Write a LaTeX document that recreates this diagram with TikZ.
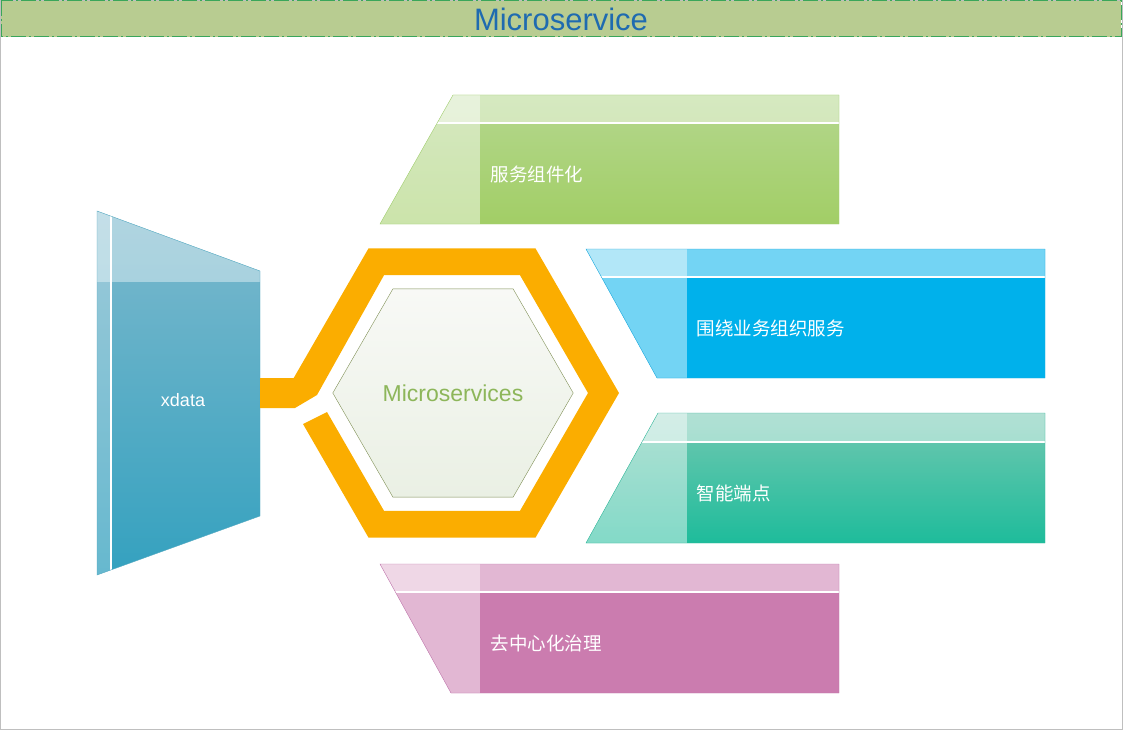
\documentclass[tikz,border=0pt]{standalone}
\usepackage{fontspec}
\setmainfont{Liberation Sans}
\newfontfamily\cjk{Noto Sans CJK SC}
\usetikzlibrary{shapes.geometric}

\definecolor{titlefill}{HTML}{B8CC91}
\definecolor{titleline}{HTML}{3AA65A}
\definecolor{titletext}{HTML}{1F6BB0}
\definecolor{ringorange}{HTML}{FBAD00}
\definecolor{hubtop}{HTML}{F8F9F6}
\definecolor{hubbot}{HTML}{EAF0E4}
\definecolor{hubline}{HTML}{7F8F55}
\definecolor{hubtext}{HTML}{8DB65A}
\definecolor{xdtop}{HTML}{7DB9CD}
\definecolor{xdbot}{HTML}{34A1BF}
\definecolor{xdline}{HTML}{55A9C1}
\definecolor{grtop}{HTML}{B4D78E}
\definecolor{grbot}{HTML}{A2CE66}
\definecolor{grline}{HTML}{A3CF72}
\definecolor{blfill}{HTML}{00B1EB}
\definecolor{blline}{HTML}{22AADD}
\definecolor{tltop}{HTML}{72C8B1}
\definecolor{tlbot}{HTML}{1EBC9B}
\definecolor{tlline}{HTML}{35B89C}
\definecolor{pkfill}{HTML}{CB7CAF}
\definecolor{pkline}{HTML}{C07AAE}

\begin{document}
\begin{tikzpicture}[x=1pt,y=-1pt,
    boxtext/.style={text=white, anchor=west, font=\cjk\fontsize{18.5}{18.5}\selectfont},
    band/.style={fill=white, fill opacity=.45},
    rim/.style={white, line width=1.2pt}]
    \useasboundingbox (0,0) rectangle (1123,730);
    \draw[gray!50] (0.5,0.5) rectangle (1122.5,729.5);
    % title bar
    \draw[titleline, fill=titlefill, line width=1pt, dash pattern=on 15pt off 3pt on 2pt off 3pt]
        (1,1) rectangle (1121,37);
    \node[text=titletext, font=\fontsize{31}{31}\selectfont] (title) at (561,19) {Microservice};

    % xdata block on the left
    \coordinate (x1) at (97,211);
    \coordinate (x2) at (260,271);
    \coordinate (x3) at (260,516);
    \coordinate (x4) at (97,575);
    \shade[top color=xdtop, bottom color=xdbot] (x1) -- (x2) -- (x3) -- (x4) -- cycle;
    \begin{scope}
        \clip (x1) -- (x2) -- (x3) -- (x4) -- cycle;
        \fill[white, fill opacity=.4] (90,200) rectangle (270,282);
        \fill[white, fill opacity=.25] (90,200) rectangle (110,590);
        \draw[white, line width=1.2pt] (111,200) -- (111,590);
    \end{scope}
    \draw[xdline] (x1) -- (x2) -- (x3) -- (x4) -- cycle;
    \node[text=white, font=\fontsize{18}{18}\selectfont] (xdata) at (183,400) {xdata};

    % orange ring round the hub, open on the left where the link from xdata comes in
    \fill[ringorange] (260,378) -- (293.7,378) -- (368.5,248.4) -- (535.5,248.4) -- (619,393)
        -- (535.5,537.6) -- (368.5,537.6) -- (303,424) -- (327,412) -- (384,510.8)
        -- (520,510.8) -- (588,393) -- (520,275.2) -- (384,275.2) -- (317,395)
        -- (295,408) -- (260,408) -- cycle;
    \node[regular polygon, regular polygon sides=6, minimum size=240pt, draw=hubline,
        top color=hubtop, bottom color=hubbot, text=hubtext,
        font=\fontsize{23}{23}\selectfont] (hub) at (453,393) {Microservices};

    % green box
    \coordinate (a1) at (453,95);
    \coordinate (a2) at (839,95);
    \coordinate (a3) at (839,224);
    \coordinate (a4) at (380,224);
    \shade[top color=grtop, bottom color=grbot] (a1) -- (a2) -- (a3) -- (a4) -- cycle;
    \begin{scope}
        \clip (a1) -- (a2) -- (a3) -- (a4) -- cycle;
        \fill[band] (370,90) rectangle (480,230);
        \fill[band] (370,90) rectangle (850,123);
        \draw[rim] (370,123) -- (850,123);
    \end{scope}
    \draw[grline] (a1) -- (a2) -- (a3) -- (a4) -- cycle;
    \node[boxtext] (f1) at (487,174) {服务组件化};

    % blue box
    \coordinate (b1) at (586,249);
    \coordinate (b2) at (1045,249);
    \coordinate (b3) at (1045,378);
    \coordinate (b4) at (657,378);
    \fill[blfill] (b1) -- (b2) -- (b3) -- (b4) -- cycle;
    \begin{scope}
        \clip (b1) -- (b2) -- (b3) -- (b4) -- cycle;
        \fill[band] (580,240) rectangle (687,385);
        \fill[band] (580,240) rectangle (1050,277);
        \draw[rim] (580,277) -- (1050,277);
    \end{scope}
    \draw[blline] (b1) -- (b2) -- (b3) -- (b4) -- cycle;
    \node[boxtext] (f2) at (693,328) {围绕业务组织服务};

    % teal box
    \coordinate (c1) at (658,413);
    \coordinate (c2) at (1045,413);
    \coordinate (c3) at (1045,543);
    \coordinate (c4) at (586,543);
    \shade[top color=tltop, bottom color=tlbot] (c1) -- (c2) -- (c3) -- (c4) -- cycle;
    \begin{scope}
        \clip (c1) -- (c2) -- (c3) -- (c4) -- cycle;
        \fill[band] (580,405) rectangle (687,550);
        \fill[band] (580,405) rectangle (1050,442);
        \draw[rim] (580,442) -- (1050,442);
    \end{scope}
    \draw[tlline] (c1) -- (c2) -- (c3) -- (c4) -- cycle;
    \node[boxtext] (f3) at (693,493) {智能端点};

    % pink box
    \coordinate (d1) at (380,564);
    \coordinate (d2) at (839,564);
    \coordinate (d3) at (839,693);
    \coordinate (d4) at (451,693);
    \fill[pkfill] (d1) -- (d2) -- (d3) -- (d4) -- cycle;
    \begin{scope}
        \clip (d1) -- (d2) -- (d3) -- (d4) -- cycle;
        \fill[band] (370,555) rectangle (480,700);
        \fill[band] (370,555) rectangle (850,592);
        \draw[rim] (370,592) -- (850,592);
    \end{scope}
    \draw[pkline] (d1) -- (d2) -- (d3) -- (d4) -- cycle;
    \node[boxtext] (f4) at (487,643) {去中心化治理};
\end{tikzpicture}
\end{document}
